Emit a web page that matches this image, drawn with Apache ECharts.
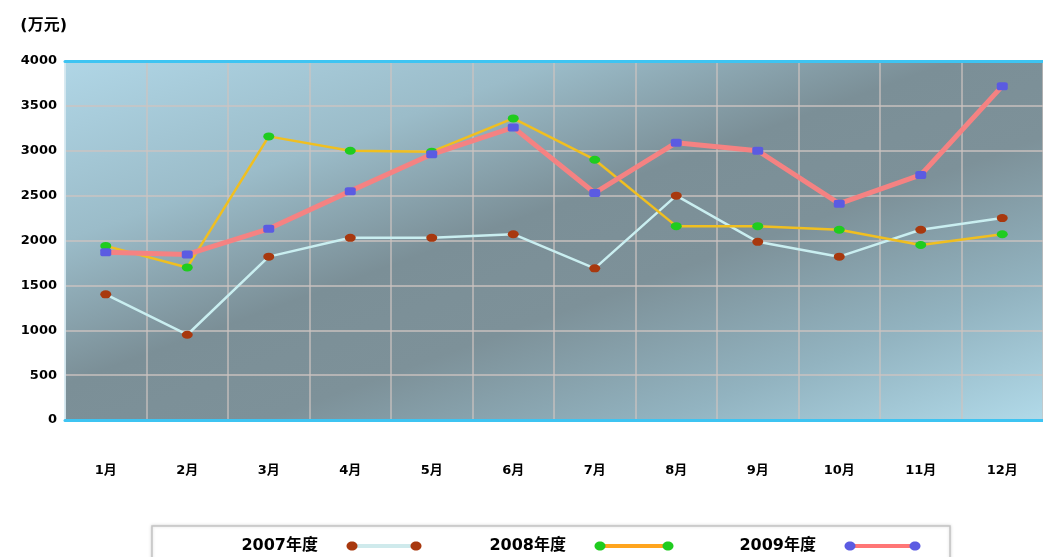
<!DOCTYPE html>
<html>
<head>
<meta charset="utf-8">
<script src="https://cdn.jsdelivr.net/npm/echarts@6/dist/echarts.min.js"></script>
<style>html,body{margin:0;padding:0;background:#fff;}#c{width:1043px;height:557px;}</style>
</head>
<body>
<div id="c"></div>
<script>
const months = ['1月','2月','3月','4月','5月','6月','7月','8月','9月','10月','11月','12月'];
const seriesNames = ['2007年度','2008年度','2009年度'];
const v2007 = [1400, 950, 1820, 2030, 2030, 2070, 1690, 2500, 1985, 1820, 2120, 2250];
const v2008 = [1940, 1700, 3160, 3000, 2990, 3360, 2900, 2160, 2160, 2120, 1950, 2070];
const v2009 = [1870, 1845, 2130, 2550, 2960, 3260, 2530, 3090, 3000, 2410, 2730, 3720];
const yTicks = [0, 500, 1000, 1500, 2000, 2500, 3000, 3500, 4000];
const unitLabel = '(万元)';

const lineColors = ['#c9eef0', '#f0bf20', '#f58282'];
const markerColors = ['#a8380e', '#1fcc1f', '#5b5be2'];
const legendLineColors = ['#cfeaec', '#ffa51e', '#ff7676'];
const FONT = "'DejaVu Sans', 'Noto Sans CJK SC', sans-serif";

const chart = echarts.init(document.getElementById('c'), null, {renderer: 'canvas'});

const ellipsePath = 'path://M0,4a6,4 0 1,0 12,0a6,4 0 1,0 -12,0z';
const symbols = [ellipsePath, ellipsePath, 'roundRect'];
const widths = [2.5, 2.5, 5];
const dataSets = [v2007, v2008, v2009];

// legend geometry (icon dot-to-dot spans)
const legendIcons = [[352, 416], [600, 668], [850, 915]];
const legendY = 546;

const legends = seriesNames.map((n, i) => ({
  data: [{name: n, itemStyle: {color: legendLineColors[i]}}],
  icon: 'rect',
  itemWidth: legendIcons[i][1] - legendIcons[i][0],
  itemHeight: 4,
  align: 'right',
  padding: 0,
  right: 1043 - legendIcons[i][1],
  top: legendY - 10,
  selectedMode: false,
  textStyle: {fontFamily: FONT, fontWeight: 'bold', fontSize: 16, color: '#000', lineHeight: 20, padding: [0, 29, 0, 0]}
}));

const graphics = [{
  type: 'rect', z: 1,
  shape: {x: 152, y: 526, width: 798, height: 60},
  style: {fill: '#fff', stroke: '#c4c4c4', lineWidth: 1.5, shadowColor: 'rgba(0,0,0,0.15)', shadowBlur: 3}
}];
legendIcons.forEach((ic, i) => {
  ic.forEach(x => graphics.push({
    type: 'ellipse', z: 100,
    shape: {cx: x, cy: legendY, rx: 5.5, ry: 4.5},
    style: {fill: markerColors[i]}
  }));
});

const option = {
  animation: false,
  backgroundColor: '#fff',
  grid: {
    left: 65, top: 61, width: 991, height: 359,
    show: true, borderWidth: 0,
    backgroundColor: new echarts.graphic.LinearGradient(65, 60, 296, 696, [
      {offset: 0, color: '#b0d6e6'},
      {offset: 0.25, color: '#9bbcc9'},
      {offset: 0.45, color: '#7b8f97'},
      {offset: 0.6, color: '#7d9199'},
      {offset: 0.8, color: '#92b3c0'},
      {offset: 1, color: '#b2dbea'}
    ], true)
  },
  legend: legends,
  graphic: graphics,
  xAxis: [{
    type: 'category', data: months, boundaryGap: true,
    axisLine: {show: true, lineStyle: {color: '#3ec4f2', width: 3}},
    axisTick: {show: false},
    axisLabel: {margin: 44, fontFamily: FONT, fontWeight: 'bold', fontSize: 13, color: '#000'},
    splitLine: {show: true, lineStyle: {color: 'rgba(205,195,192,0.7)', width: 1.8}}
  }, {
    type: 'category', data: months, position: 'top', boundaryGap: true,
    axisLine: {show: true, lineStyle: {color: '#3ec4f2', width: 3}},
    axisTick: {show: false}, axisLabel: {show: false}, splitLine: {show: false}
  }],
  yAxis: {
    type: 'value', min: yTicks[0], max: yTicks[yTicks.length - 1], interval: yTicks[1] - yTicks[0],
    name: unitLabel, nameLocation: 'end', nameGap: 27,
    nameTextStyle: {align: 'right', fontFamily: FONT, fontWeight: 'bold', fontSize: 16, color: '#000', padding: [0, -2, 0, 0]},
    axisLine: {show: true, lineStyle: {color: 'rgba(215,238,248,0.8)', width: 2}},
    axisTick: {show: false},
    axisLabel: {margin: 8, fontFamily: FONT, fontWeight: 'bold', fontSize: 13, color: '#000', formatter: v => String(v)},
    splitLine: {show: true, lineStyle: {color: 'rgba(205,195,192,0.7)', width: 1.8}}
  },
  series: seriesNames.map((n, i) => ({
    name: n, type: 'line', data: dataSets[i],
    symbol: symbols[i], symbolSize: [11, 8], showAllSymbol: true,
    lineStyle: {color: lineColors[i], width: widths[i]},
    itemStyle: {color: markerColors[i]},
    z: 3 + i
  }))
};
chart.setOption(option);
</script>
</body>
</html>
